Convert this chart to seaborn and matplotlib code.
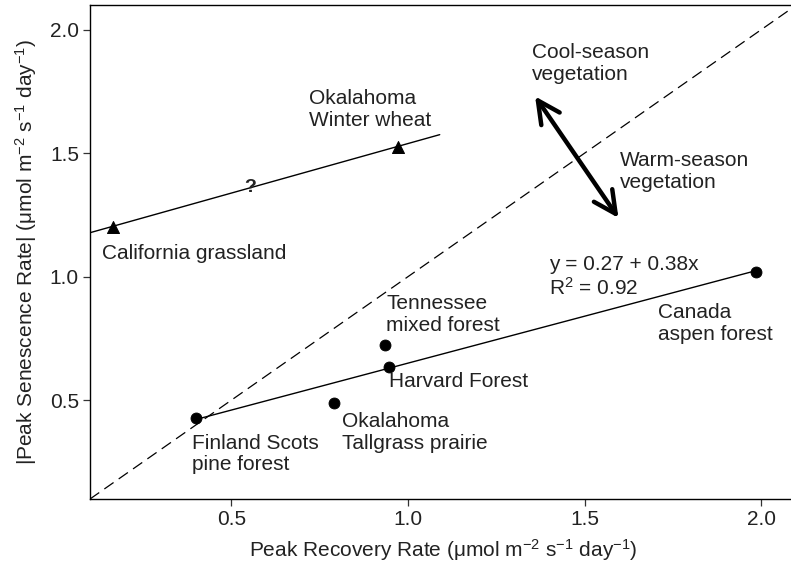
import numpy as np
import pandas as pd
import matplotlib
matplotlib.use("Agg")
import matplotlib.pyplot as plt
import seaborn as sns

# ---- data ----
cool_sites = ["California grassland", "Okalahoma Winter wheat"]
cool_x = [0.165, 0.972]
cool_y = [1.20, 1.525]

warm_sites = ["Finland Scots pine forest", "Okalahoma Tallgrass prairie",
              "Harvard Forest", "Tennessee mixed forest", "Canada aspen forest"]
warm_x = [0.401, 0.791, 0.947, 0.935, 1.986]
warm_y = [0.426, 0.487, 0.634, 0.723, 1.020]

# fitted lines (intercept, slope, x-range)
warm_fit = (0.27, 0.38)
warm_fit_x = [0.40, 1.99]
cool_fit = (1.138, 0.401)
cool_fit_x = [0.10, 1.09]

one_to_one = [0.1, 2.1]

x_ticks = [0.5, 1.0, 1.5, 2.0]
y_ticks = [0.5, 1.0, 1.5, 2.0]

# ---- style ----
sns.set_theme(style="ticks")
plt.rcParams["font.family"] = ["Liberation Sans", "DejaVu Sans"]
plt.rcParams["mathtext.fontset"] = "custom"
plt.rcParams["mathtext.rm"] = "Liberation Sans"
plt.rcParams["mathtext.it"] = "Liberation Sans:italic"
plt.rcParams["mathtext.bf"] = "Liberation Sans:bold"

FS = 15
fig = plt.figure(figsize=(7.91, 5.75), dpi=100)
ax = fig.add_axes([90 / 791, 76 / 575, 706.5 / 791, 494 / 575])

cool_df = pd.DataFrame({"x": cool_x, "y": cool_y, "site": cool_sites})
warm_df = pd.DataFrame({"x": warm_x, "y": warm_y, "site": warm_sites})

# 1:1 line
sns.lineplot(x=one_to_one, y=one_to_one, ax=ax, color="black", lw=0.9,
             linestyle=(0, (9, 5)), estimator=None, sort=False)

# fit lines
wx = np.array(warm_fit_x)
sns.lineplot(x=wx, y=warm_fit[0] + warm_fit[1] * wx, ax=ax, color="black",
             lw=1.0, estimator=None)
cx = np.array(cool_fit_x)
sns.lineplot(x=cx, y=cool_fit[0] + cool_fit[1] * cx, ax=ax, color="black",
             lw=1.0, estimator=None)

# points
sns.scatterplot(data=warm_df, x="x", y="y", ax=ax, color="black", s=62,
                marker="o", edgecolor="black", zorder=5)
sns.scatterplot(data=cool_df, x="x", y="y", ax=ax, color="black", s=75,
                marker="^", edgecolor="black", zorder=5)

# labels
texts = [
    (0.719, 1.677, "Okalahoma\nWinter wheat"),
    (0.135, 1.094, "California grassland"),
    (1.35, 1.864, "Cool-season\nvegetation"),
    (1.60, 1.425, "Warm-season\nvegetation"),
    (1.40, 0.999, "y = 0.27 + 0.38x\nR$^2$ = 0.92"),
    (1.709, 0.81, "Canada\naspen forest"),
    (0.939, 0.847, "Tennessee\nmixed forest"),
    (0.946, 0.574, "Harvard Forest"),
    (0.813, 0.369, "Okalahoma\nTallgrass prairie"),
    (0.388, 0.282, "Finland Scots\npine forest"),
]
for x, y, t in texts:
    ax.text(x, y, t, ha="left", va="center", fontsize=FS, linespacing=1.18,
            color="#222222")
ax.text(0.552, 1.36, "?", ha="center", va="center", fontsize=FS - 1,
        fontweight="bold", color="#222222")

# double arrow
ax.annotate("", xy=(1.36, 1.73), xytext=(1.596, 1.238),
            arrowprops=dict(arrowstyle="<->,head_length=0.8,head_width=0.4",
                            lw=3.2, color="black", mutation_scale=20,
                            shrinkA=0, shrinkB=0))

ax.set_xlim(0.1, 2.1)
ax.set_ylim(0.1, 2.1)
ax.set_xticks(x_ticks)
ax.set_yticks(y_ticks)
ax.set_xticklabels([f"{v:.1f}" for v in x_ticks])
ax.set_yticklabels([f"{v:.1f}" for v in y_ticks])
ax.tick_params(axis="both", labelsize=FS, length=5, width=0.9,
               color="#333333", labelcolor="#222222", pad=3)
for s in ax.spines.values():
    s.set_linewidth(1.0)
    s.set_color("black")

ax.set_xlabel("Peak Recovery Rate (μmol m$^{-2}$ s$^{-1}$ day$^{-1}$)",
              fontsize=FS, color="#222222", labelpad=6)
ax.set_ylabel("|Peak Senescence Rate| (μmol m$^{-2}$ s$^{-1}$ day$^{-1}$)",
              fontsize=FS, color="#222222", labelpad=8)

fig.savefig("out.png", dpi=100)
